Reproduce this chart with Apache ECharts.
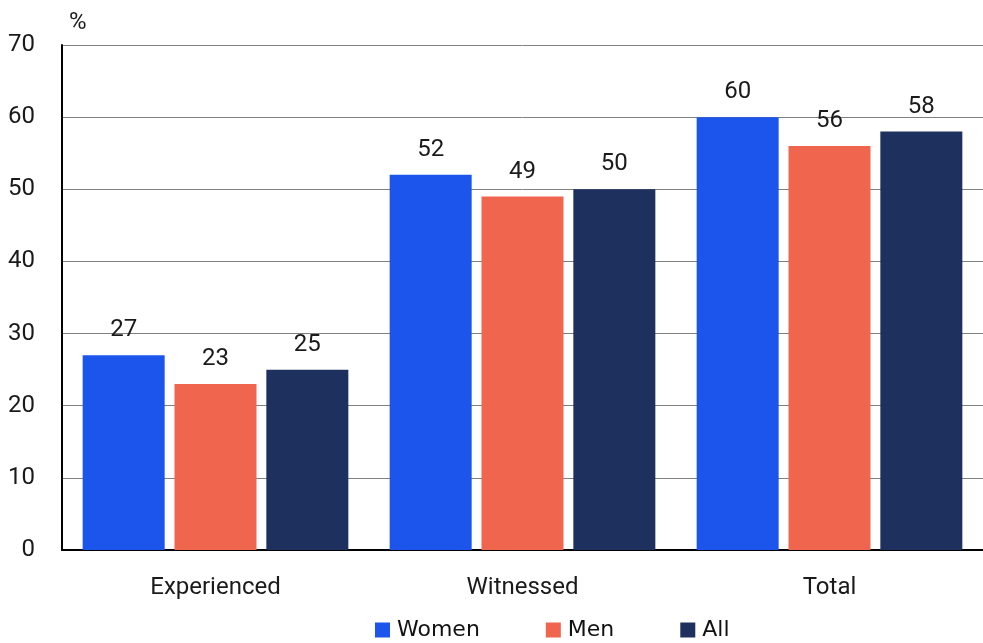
<!DOCTYPE html>
<html><head><meta charset="utf-8">
<script src="https://cdn.jsdelivr.net/npm/echarts@6/dist/echarts.min.js"></script>
<style>html,body{margin:0;padding:0;background:#fff}#c{width:983px;height:643px}</style>
</head><body><div id="c"></div>
<script>
const categories = ['Experienced', 'Witnessed', 'Total'];
const women = [27, 52, 60];
const men = [23, 49, 56];
const all = [25, 50, 58];
const seriesNames = ['Women', 'Men', 'All'];
const colors = ['#1B55EB', '#F0654D', '#1D305E'];
const FONT = 'Roboto';
const chart = echarts.init(document.getElementById('c'));
const lbl = {show: true, position: 'top', distance: 13, color: '#1a1a1a', fontSize: 24, fontFamily: FONT};
chart.setOption({
  animation: false,
  color: colors,
  grid: {left: 62, right: 0, top: 45, bottom: 93, containLabel: false},
  legend: {
    data: seriesNames, bottom: -3, left: 370, itemWidth: 15, itemHeight: 15, itemGap: 66,
    icon: 'rect',
    textStyle: {fontFamily: 'DejaVu Sans', fontSize: 22, color: '#111', padding: [0,0,0,2]}
  },
  xAxis: {
    type: 'category', data: categories,
    axisLine: {lineStyle: {color: '#000', width: 2}},
    axisTick: {show: false},
    axisLabel: {fontFamily: FONT, fontSize: 24, color: '#1a1a1a', margin: 26}
  },
  yAxis: {
    type: 'value', min: 0, max: 70, interval: 10,
    name: '%', nameGap: 10, nameTextStyle: {fontFamily: FONT, fontSize: 24, color: '#1a1a1a', align: 'left', padding: [0,0,0,7]},
    axisLine: {show: true, lineStyle: {color: '#000', width: 2}},
    axisTick: {show: false},
    axisLabel: {fontFamily: FONT, fontSize: 24, color: '#1a1a1a', margin: 27},
    splitLine: {lineStyle: {color: '#808080', width: 1}}
  },
  series: [
    {name: 'Women', type: 'bar', data: women, barWidth: 82, barGap: '12%', label: lbl},
    {name: 'Men', type: 'bar', data: men, barWidth: 82, barGap: '12%', label: lbl},
    {name: 'All', type: 'bar', data: all, barWidth: 82, barGap: '12%', label: lbl}
  ]
});
</script></body></html>
